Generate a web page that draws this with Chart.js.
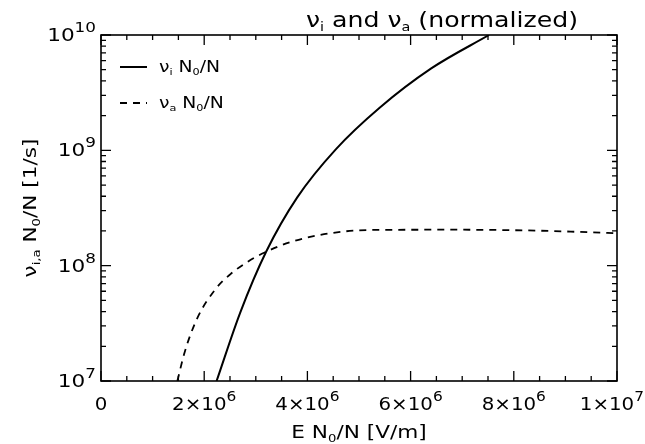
<!DOCTYPE html>
<html>
<head>
<meta charset="utf-8">
<script src="https://cdn.jsdelivr.net/npm/chart.js@4.4.1/dist/chart.umd.min.js"></script>
<style>
  html, body { margin: 0; padding: 0; background: #fff; }
  #wrap { width: 645px; height: 444px; }
</style>
</head>
<body>
<div id="wrap"><canvas id="c" width="645" height="444"></canvas></div>
<script>
// E N0/N [V/m] and normalized frequencies [1/s]
const ionE = [2.24e6, 2.7e6, 3.2e6, 3.8e6, 4.55e6, 5.4e6, 6.4e6, 7.52e6];
const ionNu = [1e7, 3.94e7, 1.32e8, 3.89e8, 1.02e9, 2.34e9, 5.13e9, 1e10];
const attE = [1.48e6, 1.62e6, 1.86e6, 2.22e6, 2.51e6, 2.84e6, 3.17e6, 3.69e6, 4.44e6, 5.24e6, 6.85e6, 8.5e6, 1e7];
const attNu = [1e7, 1.77e7, 3.46e7, 6.27e7, 8.45e7, 1.08e8, 1.3e8, 1.61e8, 1.91e8, 2.04e8, 2.05e8, 2.01e8, 1.91e8];

const yTicks = [1e7, 1e8, 1e9, 1e10];
const yExp = ["7", "8", "9", "10"];
const xTicks = [0, 2e6, 4e6, 6e6, 8e6, 1e7];
const xMant = ["0", "2\u00d710", "4\u00d710", "6\u00d710", "8\u00d710", "1\u00d710"];
const xExp = ["", "6", "6", "6", "6", "7"];

const FONT = "'DejaVu Sans', sans-serif";
const STRETCH = 1.2;

const toPoints = (xs, ys) => xs.map((x, i) => ({ x: x, y: ys[i] }));

function richWidth(ctx, parts) {
  let w = 0;
  parts.forEach((p) => {
    ctx.font = p[1] + "px " + FONT;
    w += ctx.measureText(p[0]).width;
  });
  return w;
}

// parts: [text, size, dy]; draws a run of text with sub/superscripts
function drawRich(ctx, parts, x, y, align, stretch, angle) {
  const w = richWidth(ctx, parts);
  ctx.save();
  ctx.translate(x, y);
  if (angle) ctx.rotate(angle);
  ctx.scale(stretch, 1);
  let cx = align === "center" ? -w / 2 : align === "right" ? -w : 0;
  ctx.textAlign = "left";
  ctx.textBaseline = "alphabetic";
  parts.forEach((p) => {
    ctx.font = p[1] + "px " + FONT;
    ctx.fillText(p[0], cx, p[2] || 0);
    cx += ctx.measureText(p[0]).width;
  });
  ctx.restore();
}

const legendParts = [
  [["\u03bd", 15], ["i", 9, 3], [" N", 15], ["0", 9, 3], ["/N", 15]],
  [["\u03bd", 15], ["a", 9, 3], [" N", 15], ["0", 9, 3], ["/N", 15]]
];

// frame, inward ticks, tick labels, legend and titles in the IDL look
const idlFrame = {
  id: "idlFrame",
  afterDraw(chart) {
    const ctx = chart.ctx;
    const a = chart.chartArea;
    const xs = chart.scales.x;
    const ys = chart.scales.y;
    ctx.save();
    ctx.strokeStyle = "#000";
    ctx.fillStyle = "#000";
    ctx.lineWidth = 1.6;
    ctx.strokeRect(a.left, a.top, a.right - a.left, a.bottom - a.top);

    ctx.lineWidth = 1.3;
    ctx.beginPath();
    for (let k = 0; k <= 20; k++) {
      const v = k * 5e5;
      const px = xs.getPixelForValue(v);
      const len = k % 4 === 0 ? 10 : 5;
      ctx.moveTo(px, a.bottom); ctx.lineTo(px, a.bottom - len);
      ctx.moveTo(px, a.top); ctx.lineTo(px, a.top + len);
    }
    for (let d = 7; d <= 10; d++) {
      for (let m = 1; m <= 9; m++) {
        if (d === 10 && m > 1) break;
        const py = ys.getPixelForValue(m * Math.pow(10, d));
        const len = m === 1 ? 10 : 5;
        ctx.moveTo(a.left, py); ctx.lineTo(a.left + len, py);
        ctx.moveTo(a.right, py); ctx.lineTo(a.right - len, py);
      }
    }
    ctx.stroke();

    // tick labels
    yTicks.forEach((v, i) => {
      const py = ys.getPixelForValue(v);
      drawRich(ctx, [["10", 18], [yExp[i], 14, -9]], a.left - 5, py + 6, "right", STRETCH);
    });
    const xStretch = 1.1;
    xTicks.forEach((v, i) => {
      const parts = [[xMant[i], 18]];
      if (xExp[i]) parts.push([xExp[i], 14, -9]);
      const half = richWidth(ctx, parts) * xStretch / 2;
      const px = Math.min(xs.getPixelForValue(v), chart.width - 1 - half);
      drawRich(ctx, parts, px, a.bottom + 29, "center", xStretch);
    });

    // legend
    chart.data.datasets.forEach((ds, i) => {
      const y = a.top + 32 + i * 36;
      ctx.beginPath();
      ctx.lineWidth = ds.borderWidth;
      ctx.setLineDash(ds.borderDash || []);
      ctx.moveTo(a.left + 19, y);
      ctx.lineTo(a.left + 46, y);
      ctx.stroke();
      ctx.setLineDash([]);
      drawRich(ctx, legendParts[i], a.left + 58, y + 5, "left", 1.25);
    });

    // titles
    drawRich(ctx, [["\u03bd", 21], ["i", 12, 4], [" and ", 21], ["\u03bd", 21], ["a", 12, 4], [" (normalized)", 21]],
      442, 27, "center", STRETCH);
    drawRich(ctx, [["E N", 18], ["0", 11, 4], ["/N [V/m]", 18]],
      (a.left + a.right) / 2, 438, "center", STRETCH);
    drawRich(ctx, [["\u03bd", 18], ["i,a", 11, 4], [" N", 18], ["0", 11, 4], ["/N [1/s]", 18]],
      36, (a.top + a.bottom) / 2, "center", STRETCH, -Math.PI / 2);
    ctx.restore();
  }
};

new Chart(document.getElementById("c"), {
  type: "line",
  data: {
    datasets: [
      {
        label: "\u03bd\u1d62 N\u2080/N",
        data: toPoints(ionE, ionNu),
        borderColor: "#000",
        borderWidth: 2,
        pointRadius: 0,
        cubicInterpolationMode: "monotone",
        fill: false
      },
      {
        label: "\u03bd\u2090 N\u2080/N",
        data: toPoints(attE, attNu),
        borderColor: "#000",
        borderWidth: 1.8,
        borderDash: [7, 6],
        pointRadius: 0,
        cubicInterpolationMode: "monotone",
        fill: false
      }
    ]
  },
  options: {
    responsive: false,
    animation: false,
    layout: { padding: { top: 35, right: 28, bottom: 0, left: 0 } },
    plugins: { legend: { display: false }, title: { display: false }, tooltip: { enabled: false } },
    scales: {
      x: {
        type: "linear",
        min: 0,
        max: 1e7,
        grid: { display: false },
        border: { display: false },
        ticks: { display: false, stepSize: 2e6 },
        afterFit: (s) => { s.height = 63; }
      },
      y: {
        type: "logarithmic",
        min: 1e7,
        max: 1e10,
        grid: { display: false },
        border: { display: false },
        ticks: { display: false },
        afterFit: (s) => { s.width = 101; }
      }
    }
  },
  plugins: [idlFrame]
});
</script>
</body>
</html>
